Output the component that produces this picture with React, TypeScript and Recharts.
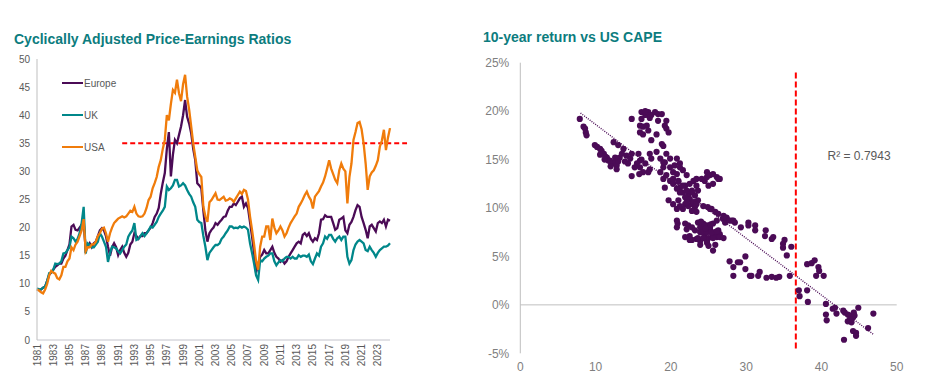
import React from 'react';
import {
    LineChart,
    Line,
    XAxis,
    YAxis,
    ReferenceLine,
    ReferenceDot,
    Legend,
    ScatterChart,
    Scatter,
} from 'recharts';

// quarterly CAPE readings, first point is Q1 1981
const firstYear = 1981;

const europeCape = [
    9.0, 8.9, 9.0, 9.3, 9.5, 10.5, 11.6, 12.0, 12.5, 13.0, 13.3, 13.6, 13.6, 14.5, 15.0, 16.0,
    17.0, 20.2, 20.5, 19.6, 19.5, 20.0, 20.5, 21.0, 16.0, 16.5, 17.2, 16.5, 17.2, 17.5, 18.5, 19.5,
    19.9, 19.5, 18.5, 16.6, 15.0, 16.5, 17.2, 16.5, 15.1, 16.0, 16.6, 15.5, 14.8, 15.5, 17.0, 17.5,
    19.0, 18.5, 18.0, 18.5, 18.5, 19.0, 19.0, 19.5, 20.0, 20.8, 21.9, 22.5, 23.5, 26.0, 28.0, 29.7,
    34.0, 37.0, 29.1, 33.0, 35.6, 35.0, 36.5, 38.0, 40.0, 42.7, 39.7, 38.5, 36.8, 34.0, 32.0, 27.9,
    27.5, 27.0, 23.0, 19.5, 17.5, 19.0, 19.6, 20.0, 20.8, 20.5, 21.0, 21.4, 21.9, 22.0, 23.0, 23.7,
    23.7, 24.3, 24.0, 24.6, 25.2, 25.5, 23.7, 24.3, 23.5, 21.0, 18.4, 15.5, 12.0, 13.5, 14.8, 15.2,
    16.0, 15.4, 15.4, 16.0, 16.6, 15.5, 14.8, 14.5, 13.9, 14.2, 13.6, 14.0, 14.8, 15.4, 16.0, 16.6,
    17.2, 17.5, 17.2, 18.7, 19.0, 18.5, 19.0, 18.0, 17.5, 18.1, 17.8, 19.0, 21.4, 21.5, 22.2, 21.9,
    21.9, 21.9, 20.8, 19.6, 19.9, 21.4, 21.6, 21.9, 19.5, 19.0, 20.5, 21.0, 21.9, 23.1, 24.0, 23.7,
    21.9, 20.8, 19.6, 18.1, 20.2, 20.5, 19.9, 19.3, 20.8, 21.1, 20.8, 21.4, 20.2, 21.4, 21.2,
];

const ukCape = [
    9.2, 9.0, 9.0, 9.3, 9.5, 10.5, 11.9, 12.0, 12.5, 13.6, 13.5, 13.6, 14.0, 15.4, 15.5, 16.0,
    16.5, 18.4, 18.1, 17.5, 18.0, 19.0, 20.8, 23.7, 15.4, 17.2, 16.9, 16.5, 16.5, 17.0, 17.5, 19.0,
    18.4, 17.5, 16.6, 13.9, 15.5, 16.6, 16.5, 16.3, 15.8, 15.4, 16.0, 16.6, 17.0, 18.4, 19.0, 19.5,
    20.8, 17.8, 18.0, 18.5, 19.0, 18.5, 19.0, 19.5, 20.2, 20.0, 20.5, 21.0, 21.9, 22.5, 23.0, 23.7,
    27.3, 26.7, 27.0, 27.5, 28.5, 28.5, 27.3, 27.5, 27.9, 27.5, 26.7, 26.0, 25.5, 24.5, 23.7, 21.4,
    21.0, 20.8, 18.5, 16.6, 14.2, 15.5, 16.0, 16.5, 16.9, 16.9, 17.2, 18.0, 18.4, 19.0, 19.5, 20.2,
    20.2, 19.9, 20.0, 19.9, 20.2, 20.0, 20.2, 20.0, 19.6, 17.2, 15.5, 13.6, 11.5, 10.7, 14.2, 14.0,
    14.5, 14.8, 15.0, 15.4, 15.4, 14.0, 13.3, 13.8, 14.2, 14.0, 14.5, 14.8, 14.8, 14.5, 14.8, 14.5,
    14.5, 15.1, 14.8, 15.0, 15.0, 14.8, 15.2, 14.0, 13.5, 14.5, 15.4, 15.0, 16.6, 17.2, 18.4, 18.0,
    18.7, 18.7, 18.0, 17.5, 18.1, 18.4, 17.8, 18.4, 18.4, 14.8, 13.6, 14.2, 16.0, 17.0, 17.5, 17.8,
    17.5, 17.2, 16.0, 15.8, 16.6, 16.0, 15.5, 14.8, 15.5, 16.0, 16.3, 16.6, 16.6, 16.8, 17.2,
];

const usaCape = [
    9.0, 8.8, 8.5, 8.3, 9.0, 10.0, 11.5, 12.3, 12.0, 11.8, 11.0, 10.8, 11.5, 13.0, 13.0, 14.0,
    14.5, 16.5, 16.0, 17.0, 17.5, 18.5, 19.5, 21.5, 15.8, 16.5, 16.5, 17.0, 17.0, 17.5, 18.5, 19.0,
    19.8, 20.0, 19.0, 17.5, 19.0, 20.0, 20.8, 21.2, 21.6, 21.8, 22.0, 21.8, 22.0, 22.5, 23.0, 22.8,
    23.7, 22.5, 22.0, 21.9, 22.0, 22.5, 23.5, 24.9, 25.5, 27.0, 27.9, 29.0, 30.8, 32.0, 34.0, 35.6,
    40.0, 39.1, 42.0, 44.5, 44.0, 46.3, 43.9, 42.5, 45.5, 47.2, 43.3, 41.0, 38.0, 35.0, 32.6, 30.2,
    29.5, 29.0, 23.7, 22.0, 21.0, 24.5, 24.9, 25.5, 26.1, 25.0, 24.9, 25.2, 25.5, 24.8, 24.9, 25.2,
    25.0, 24.6, 25.2, 25.8, 26.4, 26.0, 26.7, 26.5, 25.0, 22.0, 19.6, 17.0, 14.0, 12.5, 16.6, 18.4,
    18.4, 20.2, 20.2, 17.8, 21.6, 20.0, 19.0, 19.5, 20.2, 19.5, 18.4, 19.0, 20.0, 20.8, 21.4, 22.0,
    22.5, 23.7, 24.3, 25.0, 25.8, 26.4, 25.5, 24.9, 23.4, 25.5, 26.0, 26.5, 27.3, 28.0, 29.1, 30.5,
    32.0, 30.5, 29.5, 28.5, 27.9, 30.2, 31.4, 30.5, 30.0, 24.3, 29.0, 31.4, 35.6, 37.0, 38.6, 38.8,
    37.5, 35.0, 31.4, 26.7, 29.1, 29.8, 30.2, 31.0, 32.0, 34.4, 35.5, 37.4, 33.8, 36.0, 37.7,
];

const yearTicks = [
    1981, 1983, 1985, 1987, 1989, 1991, 1993, 1995, 1997, 1999, 2001,
    2003, 2005, 2007, 2009, 2011, 2013, 2015, 2017, 2019, 2021, 2023,
];
const capeTicks = [0, 5, 10, 15, 20, 25, 30, 35, 40, 45, 50];

// red dashed "today" level on the CAPE chart
const usaLevelNow = 35;
const usaLevelFrom = 1991.5;
const usaLevelTo = 2026.6;

// scatter: [starting US CAPE, following 10-year annualised return %]
const lowCape = [
    [7.9, 19.2], [8.4, 18.4], [8.6, 18.2], [8.7, 17.8], [8.8, 17.5],
    [9.9, 16.5], [10.2, 16.3], [10.6, 16.1], [10.8, 15.9], [11.1, 15.6], [11.3, 15.3],
    [11.5, 15.2], [11.7, 14.9], [11.9, 14.9], [12.1, 14.6], [12.4, 14.7], [12.6, 14.6],
    [12.8, 14.4], [12.8, 14.0], [13.2, 15.2], [13.7, 16.1], [13.5, 15.6], [12.4, 16.8],
    [13.0, 16.5], [14.1, 15.4], [14.6, 15.1], [14.8, 15.6], [14.8, 13.3], [14.3, 14.6],
    [14.8, 19.2], [11.2, 15.0], [12.0, 14.3], [13.0, 14.8], [10.6, 15.5], [12.6, 15.2], [13.9, 14.8],
];

const midCape = [
    [16.1, 19.9], [16.6, 19.6], [17.0, 19.9], [17.4, 19.6], [17.9, 19.9], [18.3, 19.7],
    [18.8, 19.7], [16.1, 19.2], [18.3, 19.0], [15.9, 18.5], [16.3, 18.4], [16.8, 18.5],
    [17.0, 18.0], [15.9, 17.8], [16.3, 17.6], [18.1, 17.6], [19.2, 18.5], [19.4, 18.2],
    [19.7, 17.8], [19.4, 19.0], [17.4, 17.0], [18.8, 16.6], [19.0, 16.4], [16.6, 20.0], [17.2, 19.3],
    [15.7, 15.6], [15.9, 14.9], [15.9, 14.2], [16.3, 13.7], [16.6, 14.6], [17.2, 15.6],
    [17.4, 15.1], [17.2, 14.0], [17.0, 13.7], [15.8, 13.5], [15.5, 14.6], [15.2, 14.2], [16.1, 15.0],
    [18.1, 15.8], [18.6, 15.1], [19.4, 15.6], [19.9, 15.1], [19.2, 14.7], [19.0, 14.2],
    [19.9, 14.2], [20.8, 15.1], [21.2, 14.6], [20.3, 13.7], [20.8, 13.5], [21.6, 13.9],
    [22.1, 13.4], [18.6, 13.7], [19.0, 13.0], [19.9, 12.8], [20.3, 12.5], [21.0, 12.7],
    [21.2, 12.1], [21.9, 12.3], [22.5, 12.5], [23.0, 12.8], [23.4, 13.0], [21.6, 11.6],
    [22.3, 11.3], [22.8, 11.8], [23.2, 11.3], [19.7, 10.8], [21.0, 10.8], [21.9, 10.4],
    [22.8, 10.4], [23.6, 10.8], [20.8, 12.0], [19.2, 12.1], [19.0, 14.7], [20.5, 14.4],
    [21.2, 14.2], [19.4, 13.4], [20.3, 13.0], [21.0, 12.8], [21.6, 12.3], [22.1, 11.8],
    [22.8, 11.6], [21.2, 11.6], [21.9, 11.1], [22.5, 10.9], [23.0, 10.6], [22.3, 10.2],
    [23.2, 10.1], [21.6, 9.9], [22.8, 9.7], [23.4, 9.6], [24.3, 10.2], [25.2, 9.9],
    [25.9, 9.6], [26.3, 9.4], [27.0, 9.2], [27.4, 8.9], [28.1, 8.7], [28.5, 8.5],
    [20.3, 10.4], [20.8, 9.9], [21.2, 10.2], [22.1, 10.6], [23.4, 10.4], [24.9, 10.1], [25.4, 9.9],
    [24.8, 13.7], [25.2, 13.4], [25.6, 13.5], [26.1, 13.2], [24.1, 13.0], [24.5, 12.8],
    [25.6, 12.5], [25.0, 12.3], [26.3, 13.0], [23.4, 12.3], [23.6, 11.8], [24.8, 13.2], [26.5, 13.0],
    [20.8, 8.0], [20.9, 8.4], [20.8, 8.7], [21.9, 8.4], [22.3, 8.2], [22.5, 7.1], [23.6, 8.5],
    [23.4, 6.8], [23.9, 6.6], [24.3, 8.4], [24.8, 8.2], [25.2, 7.8], [24.3, 7.7], [23.9, 7.5],
    [24.5, 7.3], [25.0, 6.9], [25.5, 7.3], [25.9, 7.5], [26.3, 7.7], [26.5, 7.3], [26.1, 7.0],
    [24.8, 6.6], [25.6, 5.6], [22.8, 8.0], [23.2, 7.7], [24.1, 8.0], [24.5, 8.0], [25.6, 8.4],
    [26.1, 8.7], [26.9, 8.9], [27.4, 9.0], [27.2, 8.5], [27.8, 8.7], [22.1, 7.8], [21.9, 7.0],
    [22.8, 6.7], [23.9, 8.0], [24.5, 8.2], [25.2, 8.0], [24.1, 7.5], [24.8, 7.5], [25.4, 7.5],
    [26.1, 7.6], [23.6, 6.9], [24.3, 6.9], [25.6, 6.9], [26.5, 7.0], [27.0, 6.9], [23.9, 6.2],
    [24.8, 6.4], [25.9, 6.2], [25.0, 6.1], [22.5, 6.7], [24.6, 7.9], [25.3, 8.3], [24.0, 8.6],
];

const highCape = [
    [28.3, 8.7], [29.3, 8.0], [30.3, 8.5], [30.3, 8.2], [31.2, 8.2], [31.2, 7.7], [32.6, 7.7],
    [32.5, 7.1], [33.6, 7.0], [33.4, 6.8], [35.1, 6.7], [34.9, 6.3], [34.9, 5.9], [36.0, 6.0],
    [35.4, 5.1], [27.8, 4.5], [28.3, 3.9], [28.3, 3.0], [28.9, 4.4], [29.2, 4.4], [29.9, 5.0],
    [29.9, 3.7], [30.5, 3.0], [30.7, 3.0], [31.8, 3.4], [31.6, 3.0], [32.7, 2.8], [33.4, 2.9],
    [34.0, 2.8], [34.4, 2.9], [35.8, 3.0], [37.0, 1.5], [37.1, 0.9], [38.1, 1.5], [38.2, 0.3],
    [38.1, 4.2], [38.7, 4.3], [39.1, 4.6], [39.6, 3.9], [39.7, 3.5], [39.3, 3.0], [40.3, 3.0],
    [40.6, 0.1], [40.6, -1.0], [40.7, -1.6], [41.5, -0.4], [41.8, -0.3], [42.0, -0.9],
    [42.9, -0.6], [43.1, -0.8], [43.5, -1.0], [43.8, -1.1], [43.5, -1.7], [43.9, -1.7],
    [44.2, -1.3], [44.3, -0.8], [44.4, -1.1], [44.9, -0.3], [44.2, -2.7], [44.6, -2.9],
    [44.6, -3.2], [46.2, -2.4], [46.9, -0.9], [43.0, -3.6], [43.8, -1.5], [44.0, -1.8],
];

const trendCape = [8.0, 47.0];
const trendReturn = [19.8, -3.1];
const rSquared = '0.7943';

const usCapeNow = 36.6;
const capeNowTop = 24.0;
const capeNowBottom = -4.6;

const returnTicks = [-5, 0, 5, 10, 15, 20, 25];
const capeAxisTicks = [0, 10, 20, 30, 40, 50];

const FONT = '"Liberation Sans", Arial, sans-serif';
const TITLE_COLOR = '#0C7C7E';
const EUROPE = '#4B0B56';
const UK = '#00878A';
const USA = '#F07C0B';
const AXIS_GREY = '#BFBFBF';

const capeRows = europeCape.map((v, i) => ({
    t: firstYear + i / 4,
    europe: v,
    uk: ukCape[i],
    usa: usaCape[i],
}));

const scatterRows = [...lowCape, ...midCape, ...highCape].map(([cape, ret]) => ({ cape, ret }));

const legendItems = [
    { name: 'Europe', color: EUROPE },
    { name: 'UK', color: UK },
    { name: 'USA', color: USA },
];

const YearTick = ({ x, y, payload }: any) => (
    <text
        x={x}
        y={y}
        transform={`rotate(-90 ${x} ${y})`}
        textAnchor="end"
        dy="0.35em"
        fontSize={10}
        fill="#595959"
        fontFamily={FONT}
    >
        {payload.value}
    </text>
);

const CapeLegend = () => (
    <div style={{ fontFamily: FONT, fontSize: 10, color: '#595959' }}>
        {legendItems.map((it) => (
            <div key={it.name} style={{ display: 'flex', alignItems: 'center', height: 16, marginBottom: 16 }}>
                <span style={{ display: 'inline-block', width: 21, height: 2.5, background: it.color, marginRight: 1 }} />
                <span>{it.name}</span>
            </div>
        ))}
    </div>
);

const titleStyle: React.CSSProperties = {
    position: 'absolute',
    fontFamily: FONT,
    fontWeight: 700,
    fontSize: 14,
    lineHeight: '16px',
    color: TITLE_COLOR,
    whiteSpace: 'nowrap',
};

const App = () => {
    return (
        <div style={{ position: 'absolute', left: 0, top: 0, width: 929, height: 389, background: '#fff' }}>
            <div style={{ position: 'absolute', left: 0, top: 0 }}>
                <LineChart width={420} height={389} data={capeRows} margin={{ top: 59, right: 30, bottom: 9, left: 0 }}>
                    <XAxis
                        dataKey="t"
                        type="number"
                        domain={[1981, 2024.5]}
                        ticks={yearTicks}
                        interval={0}
                        tick={<YearTick />}
                        tickLine={false}
                        tickSize={0}
                        tickMargin={4}
                        height={40}
                        axisLine={{ stroke: '#C4C4CC' }}
                    />
                    <YAxis
                        type="number"
                        domain={[0, 50]}
                        ticks={capeTicks}
                        interval={0}
                        width={37}
                        tickLine={false}
                        tickSize={0}
                        tickMargin={7}
                        axisLine={{ stroke: AXIS_GREY }}
                        tick={{ fontSize: 10, fill: '#595959', fontFamily: FONT }}
                    />
                    <Legend
                        layout="horizontal"
                        verticalAlign="middle"
                        align="center"
                        wrapperStyle={{ left: 62, top: 75, width: 80, height: 90 }}
                        content={<CapeLegend />}
                    />
                    <ReferenceLine
                        segment={[{ x: usaLevelFrom, y: usaLevelNow }, { x: usaLevelTo, y: usaLevelNow }]}
                        ifOverflow="visible"
                        stroke="#FF0000"
                        strokeWidth={2}
                        strokeDasharray="5 3"
                    />
                    <Line type="linear" dataKey="europe" name="Europe" stroke={EUROPE} strokeWidth={2.3} dot={false} isAnimationActive={false} />
                    <Line type="linear" dataKey="uk" name="UK" stroke={UK} strokeWidth={2.3} dot={false} isAnimationActive={false} />
                    <Line type="linear" dataKey="usa" name="USA" stroke={USA} strokeWidth={2.3} dot={false} isAnimationActive={false} />
                </LineChart>
            </div>

            <div style={{ position: 'absolute', left: 470, top: 0 }}>
                <ScatterChart width={459} height={389} margin={{ top: 62.7, right: 32.3, bottom: 10, left: 0 }}>
                    <XAxis
                        type="number"
                        dataKey="cape"
                        domain={[0, 50]}
                        ticks={capeAxisTicks}
                        interval={0}
                        axisLine={false}
                        tickLine={false}
                        tickSize={0}
                        tickMargin={9}
                        height={25.7}
                        tick={{ fontSize: 12, fill: '#7F7F7F', fontFamily: FONT }}
                    />
                    <YAxis
                        type="number"
                        dataKey="ret"
                        domain={[-5, 25]}
                        ticks={returnTicks}
                        interval={0}
                        tickFormatter={(v) => `${v}%`}
                        width={50.3}
                        axisLine={{ stroke: AXIS_GREY }}
                        tickLine={false}
                        tickSize={0}
                        tickMargin={11}
                        tick={{ fontSize: 12, fill: '#7F7F7F', fontFamily: FONT }}
                    />
                    <ReferenceLine y={0} stroke={AXIS_GREY} strokeWidth={1} />
                    <Scatter
                        data={scatterRows}
                        fill={EUROPE}
                        isAnimationActive={false}
                        shape={(p: any) => <circle cx={p.cx} cy={p.cy} r={3.1} fill={EUROPE} />}
                    />
                    <ReferenceLine
                        segment={[{ x: trendCape[0], y: trendReturn[0] }, { x: trendCape[1], y: trendReturn[1] }]}
                        stroke={EUROPE}
                        strokeWidth={1.4}
                        strokeDasharray="1 1.3"
                    />
                    <ReferenceLine
                        segment={[{ x: usCapeNow, y: capeNowTop }, { x: usCapeNow, y: capeNowBottom }]}
                        stroke="#FF0000"
                        strokeWidth={2}
                        strokeDasharray="6 3"
                    />
                    <ReferenceDot
                        x={45}
                        y={15.4}
                        r={0}
                        fill="none"
                        stroke="none"
                        label={{ value: `R² = ${rSquared}`, position: 'center', fontSize: 12, fill: '#595959', fontFamily: FONT }}
                    />
                </ScatterChart>
            </div>

            <div style={{ ...titleStyle, left: 14, top: 31 }}>Cyclically Adjusted Price-Earnings Ratios</div>
            <div style={{ ...titleStyle, left: 483, top: 29 }}>10-year return vs US CAPE</div>
        </div>
    );
};

export default App;
